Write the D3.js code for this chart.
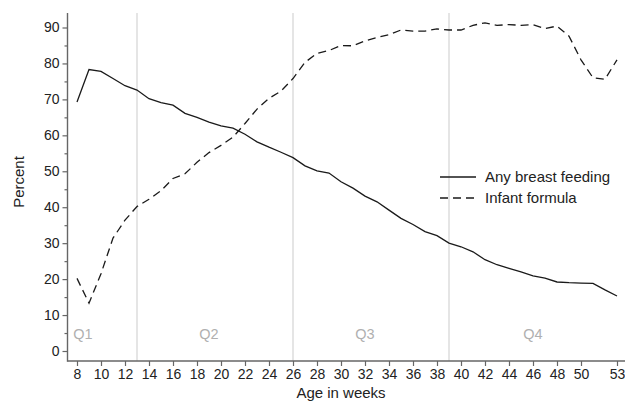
<!DOCTYPE html>
<html><head><meta charset="utf-8">
<script src="https://cdn.jsdelivr.net/npm/d3@7"></script>
<style>body{margin:0;background:#fff}svg{display:block;font-family:"Liberation Sans",Arial,Helvetica,sans-serif}</style>
</head><body><svg id="c" width="625" height="406"></svg>
<script>
const weeks = d3.range(8, 54);
const breastFeeding = [69.3,78.3,77.8,75.8,73.8,72.6,70.2,69.1,68.4,66.1,65.0,63.7,62.6,62.0,60.3,58.2,56.7,55.3,53.8,51.5,50.1,49.5,47.1,45.3,43.1,41.5,39.2,36.9,35.2,33.2,32.1,30.0,29.0,27.6,25.4,24.0,23.0,22.0,20.9,20.3,19.2,19.0,18.9,18.8,17.0,15.3];
const infantFormula = [20.2,13.3,21.5,31.4,36.4,40.2,42.2,44.6,48.0,49.3,52.5,55.2,57.2,59.5,63.3,67.3,70.3,72.3,75.8,80.3,82.8,83.6,85.0,84.9,86.3,87.2,88.0,89.3,89.0,89.0,89.6,89.3,89.3,90.6,91.3,90.6,90.8,90.6,90.8,89.7,90.4,87.6,81.0,76.0,75.6,81.0];
const xTicks = [8,10,12,14,16,18,20,22,24,26,28,30,32,34,36,38,40,42,44,46,48,50,53];
const yTicks = [0,10,20,30,40,50,60,70,80,90];
const yMinorTicks = [5,15,25,35,45,55,65,75,85];
const quarterLines = [13,26,39];
const quarterLabels = ["Q1","Q2","Q3","Q4"];
const quarterLabelWeeks = [8.5,19,32,46];
const seriesNames = ["Any breast feeding","Infant formula"];

const svg = d3.select("#c");
const x = d3.scaleLinear().domain([8,53]).range([77,617]);
const y = d3.scaleLinear().domain([0,90]).range([351,27.5]);
const axX = 67.5, axY = 361, plotTop = 13;

// quarter lines
svg.selectAll("line.q").data(quarterLines).enter().append("line")
  .attr("x1",d=>x(d)).attr("x2",d=>x(d)).attr("y1",plotTop).attr("y2",axY)
  .attr("stroke","#dcdcdc").attr("stroke-width",1.5);
svg.selectAll("text.q").data(quarterLabels).enter().append("text")
  .attr("x",(d,i)=>x(quarterLabelWeeks[i])).attr("y",y(0)-12)
  .attr("text-anchor","middle").attr("font-size",14.5).attr("fill","#b0b0b0").text(d=>d);

// axes
const yAxis = svg.append("g").attr("transform",`translate(${axX},0)`)
  .call(d3.axisLeft(y).tickValues(yTicks).tickSize(5).tickPadding(3));
yAxis.select(".domain").remove();
svg.append("g").attr("transform",`translate(${axX},0)`)
  .call(d3.axisLeft(y).tickValues(yMinorTicks).tickSize(3).tickFormat(""))
  .select(".domain").remove();
const xAxis = svg.append("g").attr("transform",`translate(0,${axY})`)
  .call(d3.axisBottom(x).tickValues(xTicks).tickSize(5).tickPadding(3));
xAxis.select(".domain").remove();
svg.selectAll(".tick line").attr("stroke","#666").attr("stroke-width",1.2);
svg.selectAll(".tick text").attr("font-size",14).attr("fill","#222").attr("font-family","Liberation Sans, Arial, sans-serif");
svg.append("line").attr("x1",axX).attr("x2",axX).attr("y1",plotTop).attr("y2",axY+0.7)
  .attr("stroke","#666").attr("stroke-width",1.4);
svg.append("line").attr("x1",axX).attr("x2",625).attr("y1",axY).attr("y2",axY)
  .attr("stroke","#666").attr("stroke-width",1.4);

// labels
svg.append("text").attr("transform","translate(24,182) rotate(-90)").attr("text-anchor","middle")
  .attr("font-size",15).attr("fill","#222").text("Percent");
svg.append("text").attr("x",341).attr("y",398).attr("text-anchor","middle")
  .attr("font-size",15).attr("fill","#222").text("Age in weeks");

// lines
const line = d3.line().x((d,i)=>x(weeks[i])).y(d=>y(d));
svg.append("path").datum(breastFeeding).attr("d",line).attr("fill","none")
  .attr("stroke","#1a1a1a").attr("stroke-width",1.3);
svg.append("path").datum(infantFormula).attr("d",line).attr("fill","none")
  .attr("stroke","#1a1a1a").attr("stroke-width",1.3).attr("stroke-dasharray","8,5");

// legend
const lg = svg.append("g");
seriesNames.forEach((n,i)=>{
  const ly = 177 + i*21;
  lg.append("line").attr("x1",440).attr("x2",476).attr("y1",ly).attr("y2",ly)
    .attr("stroke","#1a1a1a").attr("stroke-width",1.3)
    .attr("stroke-dasharray", i===1 ? "8,5" : null);
  lg.append("text").attr("x",485).attr("y",ly+5).attr("font-size",15).attr("fill","#222").text(n);
});
</script></body></html>
